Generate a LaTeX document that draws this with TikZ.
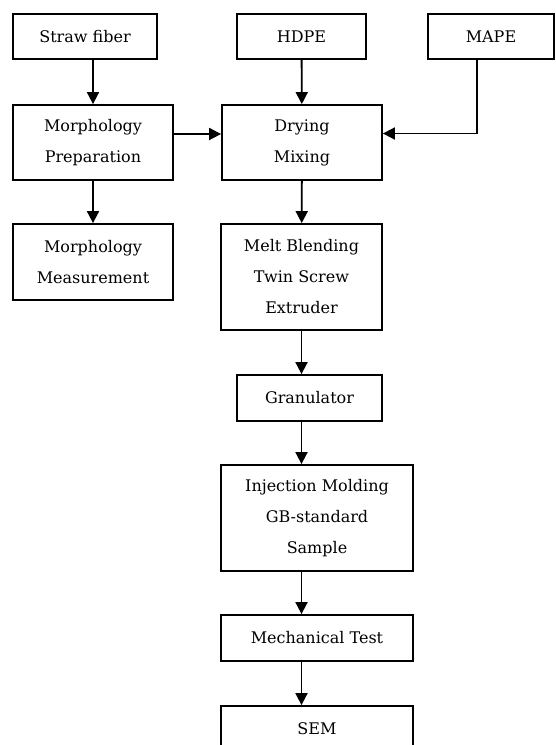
\documentclass[tikz,border=0pt]{standalone}
\usepackage{fontspec}
\setmainfont{DejaVu Serif}
\usepackage{tikz}
\usetikzlibrary{arrows.meta}
\usetikzlibrary{positioning}

\begin{document}
\begin{tikzpicture}
    [x=1pt, y=-1pt,
      % Stil fuer Kaesten
      box/.style={rectangle, draw=black, line width=1.8pt, fill=white, align=center,
        inner sep=0pt, font=\fontsize{16}{31}\selectfont},
      % Stil fuer Pfeile
      arr/.style={line width=1.8pt, -{Triangle[length=12pt, width=12pt]}}]
    \useasboundingbox (0,0) rectangle (555,745);
    % Knoten
    \node[box, minimum width=144pt, minimum height=45pt] (straw) at (85,36.5) {Straw fiber};
    \node[box, minimum width=129pt, minimum height=45pt] (hdpe) at (301.5,36.5) {HDPE};
    \node[box, minimum width=126pt, minimum height=45pt] (mape) at (491,36.5) {MAPE};
    \node[box, minimum width=160pt, minimum height=75pt] (prep) at (93,142.5) {Morphology\\Preparation};
    \node[box, minimum width=160pt, minimum height=75pt] (drying) at (302,142.5) {Drying\\Mixing};
    \node[box, minimum width=160pt, minimum height=76pt] (meas) at (93,262) {Morphology\\Measurement};
    \node[box, minimum width=161pt, minimum height=106pt] (melt) at (301.5,277) {Melt Blending\\Twin Screw\\Extruder};
    \node[box, minimum width=145pt, minimum height=46pt] (gran) at (309.5,398) {Granulator};
    \node[box, minimum width=192pt, minimum height=106pt] (inject) at (317,518) {Injection Molding\\GB-standard\\Sample};
    \node[box, minimum width=192pt, minimum height=46pt] (mech) at (317,638) {Mechanical Test};
    \node[box, minimum width=192pt, minimum height=46pt] (sem) at (317,729) {SEM};

    % Kanten
    \draw[arr] (prep.north |- straw.south) -- (prep.north);
    \draw[arr] (prep) -- (meas);
    \draw[arr] (hdpe) -- (drying);
    \draw[arr] ([yshift=8.5pt]prep.east) -- ([yshift=8.5pt]drying.west);
    \draw[arr] ([xshift=-14pt]mape.south) |- ([yshift=9pt]drying.east);
    \draw[arr] (drying) -- (melt);
    \draw[arr] (melt.south) -- (melt.south |- gran.north);
    \draw[arr] (melt.south |- gran.south) -- (melt.south |- inject.north);
    \draw[arr] (melt.south |- inject.south) -- (melt.south |- mech.north);
    \draw[arr] (melt.south |- mech.south) -- (melt.south |- sem.north);
\end{tikzpicture}
\end{document}
